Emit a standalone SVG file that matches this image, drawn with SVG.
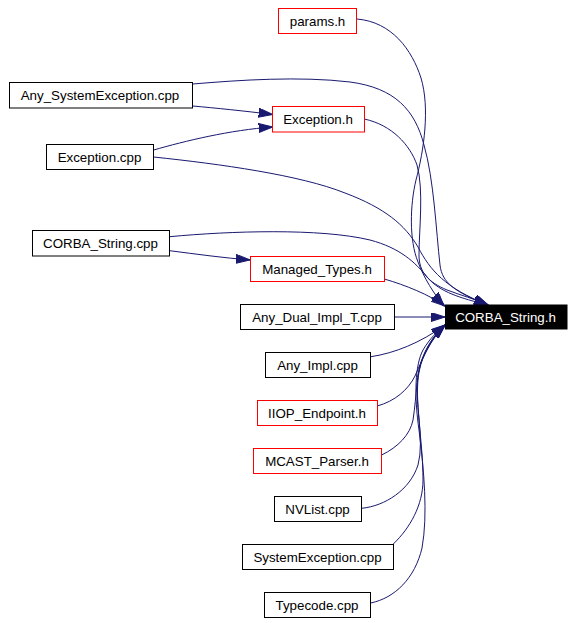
<svg xmlns="http://www.w3.org/2000/svg" width="575" height="623" viewBox="0 0 575 623">
<style>
.n rect{fill:#fff;stroke:#000;stroke-width:1}
.n.r rect{stroke:#f00}
.n text{font-family:"Liberation Sans",Arial,sans-serif;font-size:13.33px;fill:#000;text-anchor:middle}
.n.root rect{fill:#000;stroke:#000}
.n.root text{fill:#fff}
#edges path{fill:none;stroke:#191970;stroke-width:1;marker-end:url(#ah)}
</style>
<defs>
<marker id="ah" markerUnits="userSpaceOnUse" markerWidth="15" markerHeight="10" refX="14" refY="4.5" orient="auto">
<path d="M0,0 L14,4.5 L0,9 Z" fill="#191970" stroke="#191970" stroke-width="1"/>
</marker>
</defs>
<rect width="575" height="623" fill="#fff"/>
<g id="edges">
<path d="M192.7,106 C215,108 245,111 272.7,114.5"/>
<path d="M153.7,150 C185,141 230,130 272.7,127"/>
<path d="M169.7,250.7 C195,254 225,258 250,260"/>
<path d="M394.7,317 L445,317"/>
<path d="M384.3,279 C405,285 430,295 445,306"/>
<path d="M357,19 C392,22 412,50 421,78 C430,108 424,150 416,180 C410,205 409,240 418,262 C424,278 434,294 444,306"/>
<path d="M364.3,119 C392,125 410,145 417,165 C424,190 419,230 419,255 C419,272 428,282 447,290 C460,295 475,299 488,305"/>
<path d="M192.7,84 C240,80 300,76 350,82 C395,88 415,110 424,145 C434,180 436,230 440,265 C442,283 455,292 488,305"/>
<path d="M153.7,157 C220,164 300,175 345,193 C385,208 405,225 418,247 C430,270 445,288 488,305"/>
<path d="M169.7,236.7 C230,231 320,228 370,240 C400,248 415,262 428,278 C440,292 460,298 488,305"/>
<path d="M371,356.7 C395,353 420,343 445,325"/>
<path d="M377.3,406 C395,401 408,390 415,376 C422,360 430,340 445,325"/>
<path d="M381.7,455 C398,447 410,435 413,420 C417,395 416,370 424,355 C430,342 436,333 445,325"/>
<path d="M361.7,508.3 C385,506 410,490 418,465 C425,440 414,400 418,375 C422,352 432,337 445,325"/>
<path d="M393.3,544 C410,528 423,505 423,480 C423,440 414,400 419,372 C423,352 433,337 445,325"/>
<path d="M370.7,603 C395,598 415,578 422,548 C428,515 424,470 419,430 C414,395 415,365 423,350 C430,338 437,332 445,325"/>
</g>
<g id="n_params" class="n r"><rect x="278.5" y="8.5" width="78" height="25"/><text x="317.5" y="25.5">params.h</text></g>
<g id="n_anysysexc" class="n"><rect x="9.5" y="82.5" width="183" height="25.5"/><text x="100" y="100">Any_SystemException.cpp</text></g>
<g id="n_exception_h" class="n r"><rect x="272.5" y="106.5" width="92" height="25.5"/><text x="318" y="124">Exception.h</text></g>
<g id="n_exception_cpp" class="n"><rect x="46.5" y="144.5" width="107" height="25"/><text x="99.5" y="161.5">Exception.cpp</text></g>
<g id="n_corba_string_cpp" class="n"><rect x="32.5" y="230.5" width="137" height="25.5"/><text x="100.5" y="248">CORBA_String.cpp</text></g>
<g id="n_managed_types" class="n r"><rect x="250.5" y="256.5" width="134" height="25"/><text x="317" y="273.5">Managed_Types.h</text></g>
<g id="n_any_dual" class="n"><rect x="240.5" y="304.5" width="154" height="25"/><text x="317" y="321.5">Any_Dual_Impl_T.cpp</text></g>
<g id="n_corba_string_h" class="n root"><rect x="445.5" y="305" width="121.5" height="24"/><text x="505.5" y="321.7">CORBA_String.h</text></g>
<g id="n_any_impl" class="n"><rect x="265.5" y="352.5" width="105" height="25"/><text x="317.5" y="369.5">Any_Impl.cpp</text></g>
<g id="n_iiop" class="n r"><rect x="257.5" y="400.5" width="120" height="25"/><text x="317" y="417.5">IIOP_Endpoint.h</text></g>
<g id="n_mcast" class="n r"><rect x="253.5" y="448.5" width="128" height="25"/><text x="317" y="465.5">MCAST_Parser.h</text></g>
<g id="n_nvlist" class="n"><rect x="274.5" y="496.5" width="87" height="25"/><text x="317.5" y="513.5">NVList.cpp</text></g>
<g id="n_sysexc" class="n"><rect x="242.5" y="544.5" width="151" height="25"/><text x="317.5" y="561.5">SystemException.cpp</text></g>
<g id="n_typecode" class="n"><rect x="264.5" y="592.5" width="106" height="25"/><text x="317" y="609.5">Typecode.cpp</text></g>
</svg>
